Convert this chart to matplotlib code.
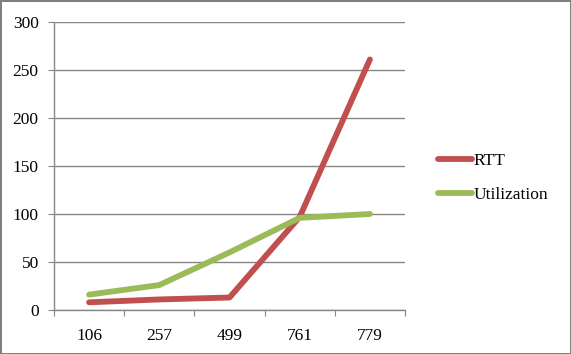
import matplotlib
matplotlib.use("Agg")
import matplotlib.pyplot as plt
import numpy as np

categories = ["106", "257", "499", "761", "779"]
rtt = [8, 11, 13, 97, 261]
utilization = [16, 26, 60, 96, 100]

plt.rcParams['font.family'] = ['Liberation Serif', 'DejaVu Serif']

gray = "#868686"
fig = plt.figure(figsize=(5.71, 3.54), dpi=100)
fig.patch.set_edgecolor("#7f7f7f")
fig.patch.set_linewidth(2)
ax = fig.add_axes([54/571, 44/354, (405-54)/571, (310-22)/354])

x = np.arange(len(categories))
ax.plot(x, rtt, color="#C0504D", lw=4.2, solid_capstyle="round", label="RTT")
ax.plot(x, utilization, color="#9BBB59", lw=4.2, solid_capstyle="round", label="Utilization")

ax.set_ylim(0, 300)
ax.set_yticks(range(0, 301, 50))
ax.yaxis.grid(True, color=gray, lw=1)
ax.set_axisbelow(True)
ax.tick_params(axis="y", length=4, color=gray, pad=7, labelsize=12.5)

ax.set_xlim(-0.5, len(categories) - 0.5)
ax.set_xticks(np.arange(-0.5, len(categories), 1.0))
ax.set_xticklabels([])
ax.set_xticks(x, minor=True)
ax.set_xticklabels(categories, minor=True)
ax.tick_params(axis="x", which="major", length=4, color=gray, direction="out")
ax.tick_params(axis="x", which="minor", length=0, pad=13, labelsize=12.5)

for s in ["top", "right"]:
    ax.spines[s].set_visible(False)
for s in ["left", "bottom"]:
    ax.spines[s].set_color(gray)
    ax.spines[s].set_linewidth(1)

ax.legend(loc="center left", bbox_to_anchor=(429/571, 176/354), bbox_transform=fig.transFigure,
          frameon=False, fontsize=12.5, handlelength=2.0, handletextpad=0.05,
          labelspacing=1.0, borderpad=0)

fig.savefig("out.png", dpi=100, edgecolor=fig.get_edgecolor())
